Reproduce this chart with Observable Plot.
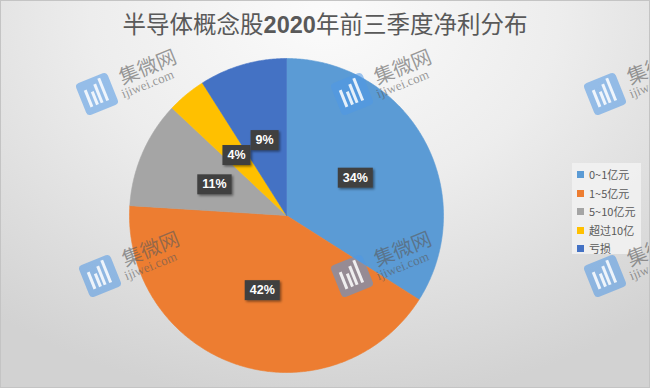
<!DOCTYPE html>
<html><head><meta charset="utf-8">
<script src="https://cdn.jsdelivr.net/npm/d3@7"></script>
<script src="https://cdn.jsdelivr.net/npm/@observablehq/plot@0.6"></script>
<style>
body{margin:0;background:#fff;}
#wrap{position:relative;width:650px;height:388px;overflow:hidden;
  background:radial-gradient(ellipse 80% 100% at 50% 4%, #fbfbfb 0%, #ededed 45%, #d2d2d2 100%);
  font-family:"Noto Sans CJK SC","Noto Sans",sans-serif;}
#wrap svg{position:absolute;left:0;top:0;}
#title{position:absolute;left:0;top:7px;width:650px;text-align:center;font-size:23.5px;line-height:32px;color:#595959;}
#title b{font-family:"Liberation Sans",Arial,sans-serif;font-weight:bold;}
#legend{position:absolute;left:572px;top:163px;width:69px;height:91px;background:rgba(242,242,242,0.85);}
.li{position:absolute;left:5px;height:18px;font-size:11px;line-height:18px;color:#595959;white-space:nowrap;}
.li span{display:inline-block;width:7px;height:7px;margin-right:5px;vertical-align:1px;}
.wm{position:absolute;width:34px;height:34px;transform:rotate(-22deg);transform-origin:17px 17px;pointer-events:none;}
.logo{position:absolute;left:0;top:0;width:34px;height:34px;border-radius:4px;background:rgba(79,152,230,0.55);}
.bar{position:absolute;background:rgba(255,255,255,0.85);width:3px;bottom:7px;}
.wm .t1{position:absolute;left:44px;top:-2px;font-size:20px;line-height:24px;color:rgba(90,90,90,0.6);white-space:nowrap;}
.wm .t2{position:absolute;left:40px;top:19px;font-size:13px;line-height:16px;color:rgba(90,90,90,0.6);white-space:nowrap;font-family:"Liberation Serif","DejaVu Serif",serif;}
#frame{position:absolute;left:0;top:0;width:650px;height:388px;box-shadow:inset 0 0 0 1px #c4c4c4;pointer-events:none;}
</style></head>
<body><div id="wrap"></div>
<script>
const titleText = ["半导体概念股", "2020", "年前三季度净利分布"];
const categories = ["0~1亿元", "1~5亿元", "5~10亿元", "超过10亿", "亏损"];
const shares = [34, 42, 11, 4, 9];
const colors = ["#5B9BD5", "#ED7D31", "#A5A5A5", "#FFC000", "#4472C4"];
const watermarkMain = "集微网";
const watermarkSub = "ijiwei.com";

const total = d3.sum(shares);
const pts = [];
const labels = [];
let acc = 0;
categories.forEach((cat, i) => {
  const a0 = acc / total * 2 * Math.PI;
  acc += shares[i];
  const a1 = acc / total * 2 * Math.PI;
  pts.push({cat, x: 0, y: 0});
  const n = Math.max(2, Math.ceil((a1 - a0) / (Math.PI / 360)));
  for (let k = 0; k <= n; k++) {
    const a = a0 + (a1 - a0) * k / n;
    pts.push({cat, x: Math.sin(a), y: Math.cos(a)});
  }
  pts.push({cat, x: 0, y: 0});
  const am = (a0 + a1) / 2;
  labels.push({cat, x: 0.5 * Math.sin(am), y: 0.5 * Math.cos(am), t: shares[i] + "%"});
});

const wrap = document.getElementById("wrap");

const chart = Plot.plot({
  width: 650, height: 388, margin: 0,
  x: {domain: [-1, 1], range: [129, 443], axis: null},
  y: {domain: [-1, 1], range: [372, 58], axis: null},
  color: {domain: categories, range: colors},
  style: {background: "transparent", overflow: "visible"},
  marks: [
    Plot.line(pts, {x: "x", y: "y", z: "cat", fill: "cat", stroke: "cat", strokeWidth: 0.6, curve: "linear"}),
    Plot.text(labels, {x: "x", y: "y", text: "t", fill: "white", fontWeight: "bold", fontSize: 12.5,
      fontFamily: "Liberation Sans, Arial, sans-serif"})
  ]
});
wrap.appendChild(chart);

// label boxes behind the percentage texts
const svg = d3.select(chart.tagName.toLowerCase() === "svg" ? chart : chart.querySelector("svg"));
const defs = svg.append("defs");
const f = defs.append("filter").attr("id", "sh").attr("x", "-30%").attr("y", "-30%").attr("width", "170%").attr("height", "170%");
f.append("feDropShadow").attr("dx", 1.5).attr("dy", 1.5).attr("stdDeviation", 1.2).attr("flood-color", "#000").attr("flood-opacity", 0.45);
svg.selectAll("text").filter(function() { return /%$/.test(this.textContent); }).each(function() {
  const b = this.getBBox();
  const padX = 5, h = 20;
  const cy = b.y + b.height / 2;
  const r = d3.select(this.parentNode).insert("rect", () => this)
    .attr("x", b.x - padX).attr("y", cy - h / 2)
    .attr("width", b.width + 2 * padX).attr("height", h)
    .attr("fill", "#404040").attr("filter", "url(#sh)");
  const tr = this.getAttribute("transform");
  if (tr) r.attr("transform", tr);
});

// title
const t = document.createElement("div");
t.id = "title";
t.innerHTML = titleText[0] + "<b>" + titleText[1] + "</b>" + titleText[2];
wrap.appendChild(t);

// legend
const lg = document.createElement("div");
lg.id = "legend";
categories.forEach((c, i) => {
  const d = document.createElement("div");
  d.className = "li";
  d.style.top = (2 + i * 18.5) + "px";
  d.innerHTML = `<span style="background:${colors[i]}"></span>${c}`;
  lg.appendChild(d);
});
wrap.appendChild(lg);

// watermarks
const wmCenters = [[97, 94], [352, 94], [605, 94], [100, 276], [352, 276], [605, 276]];
wmCenters.forEach(([cx, cy]) => {
  const w = document.createElement("div");
  w.className = "wm";
  w.style.left = (cx - 17) + "px";
  w.style.top = (cy - 17) + "px";
  const bars = [[6, 18], [12, 14], [17, 20], [23, 24]].map(([l, h]) => `<div class="bar" style="left:${l}px;height:${h}px"></div>`).join("");
  w.innerHTML = `<div class="logo">${bars}</div><div class="t1">${watermarkMain}</div><div class="t2">${watermarkSub}</div>`;
  wrap.appendChild(w);
});

const fr = document.createElement("div");
fr.id = "frame";
wrap.appendChild(fr);
</script>
</body></html>
